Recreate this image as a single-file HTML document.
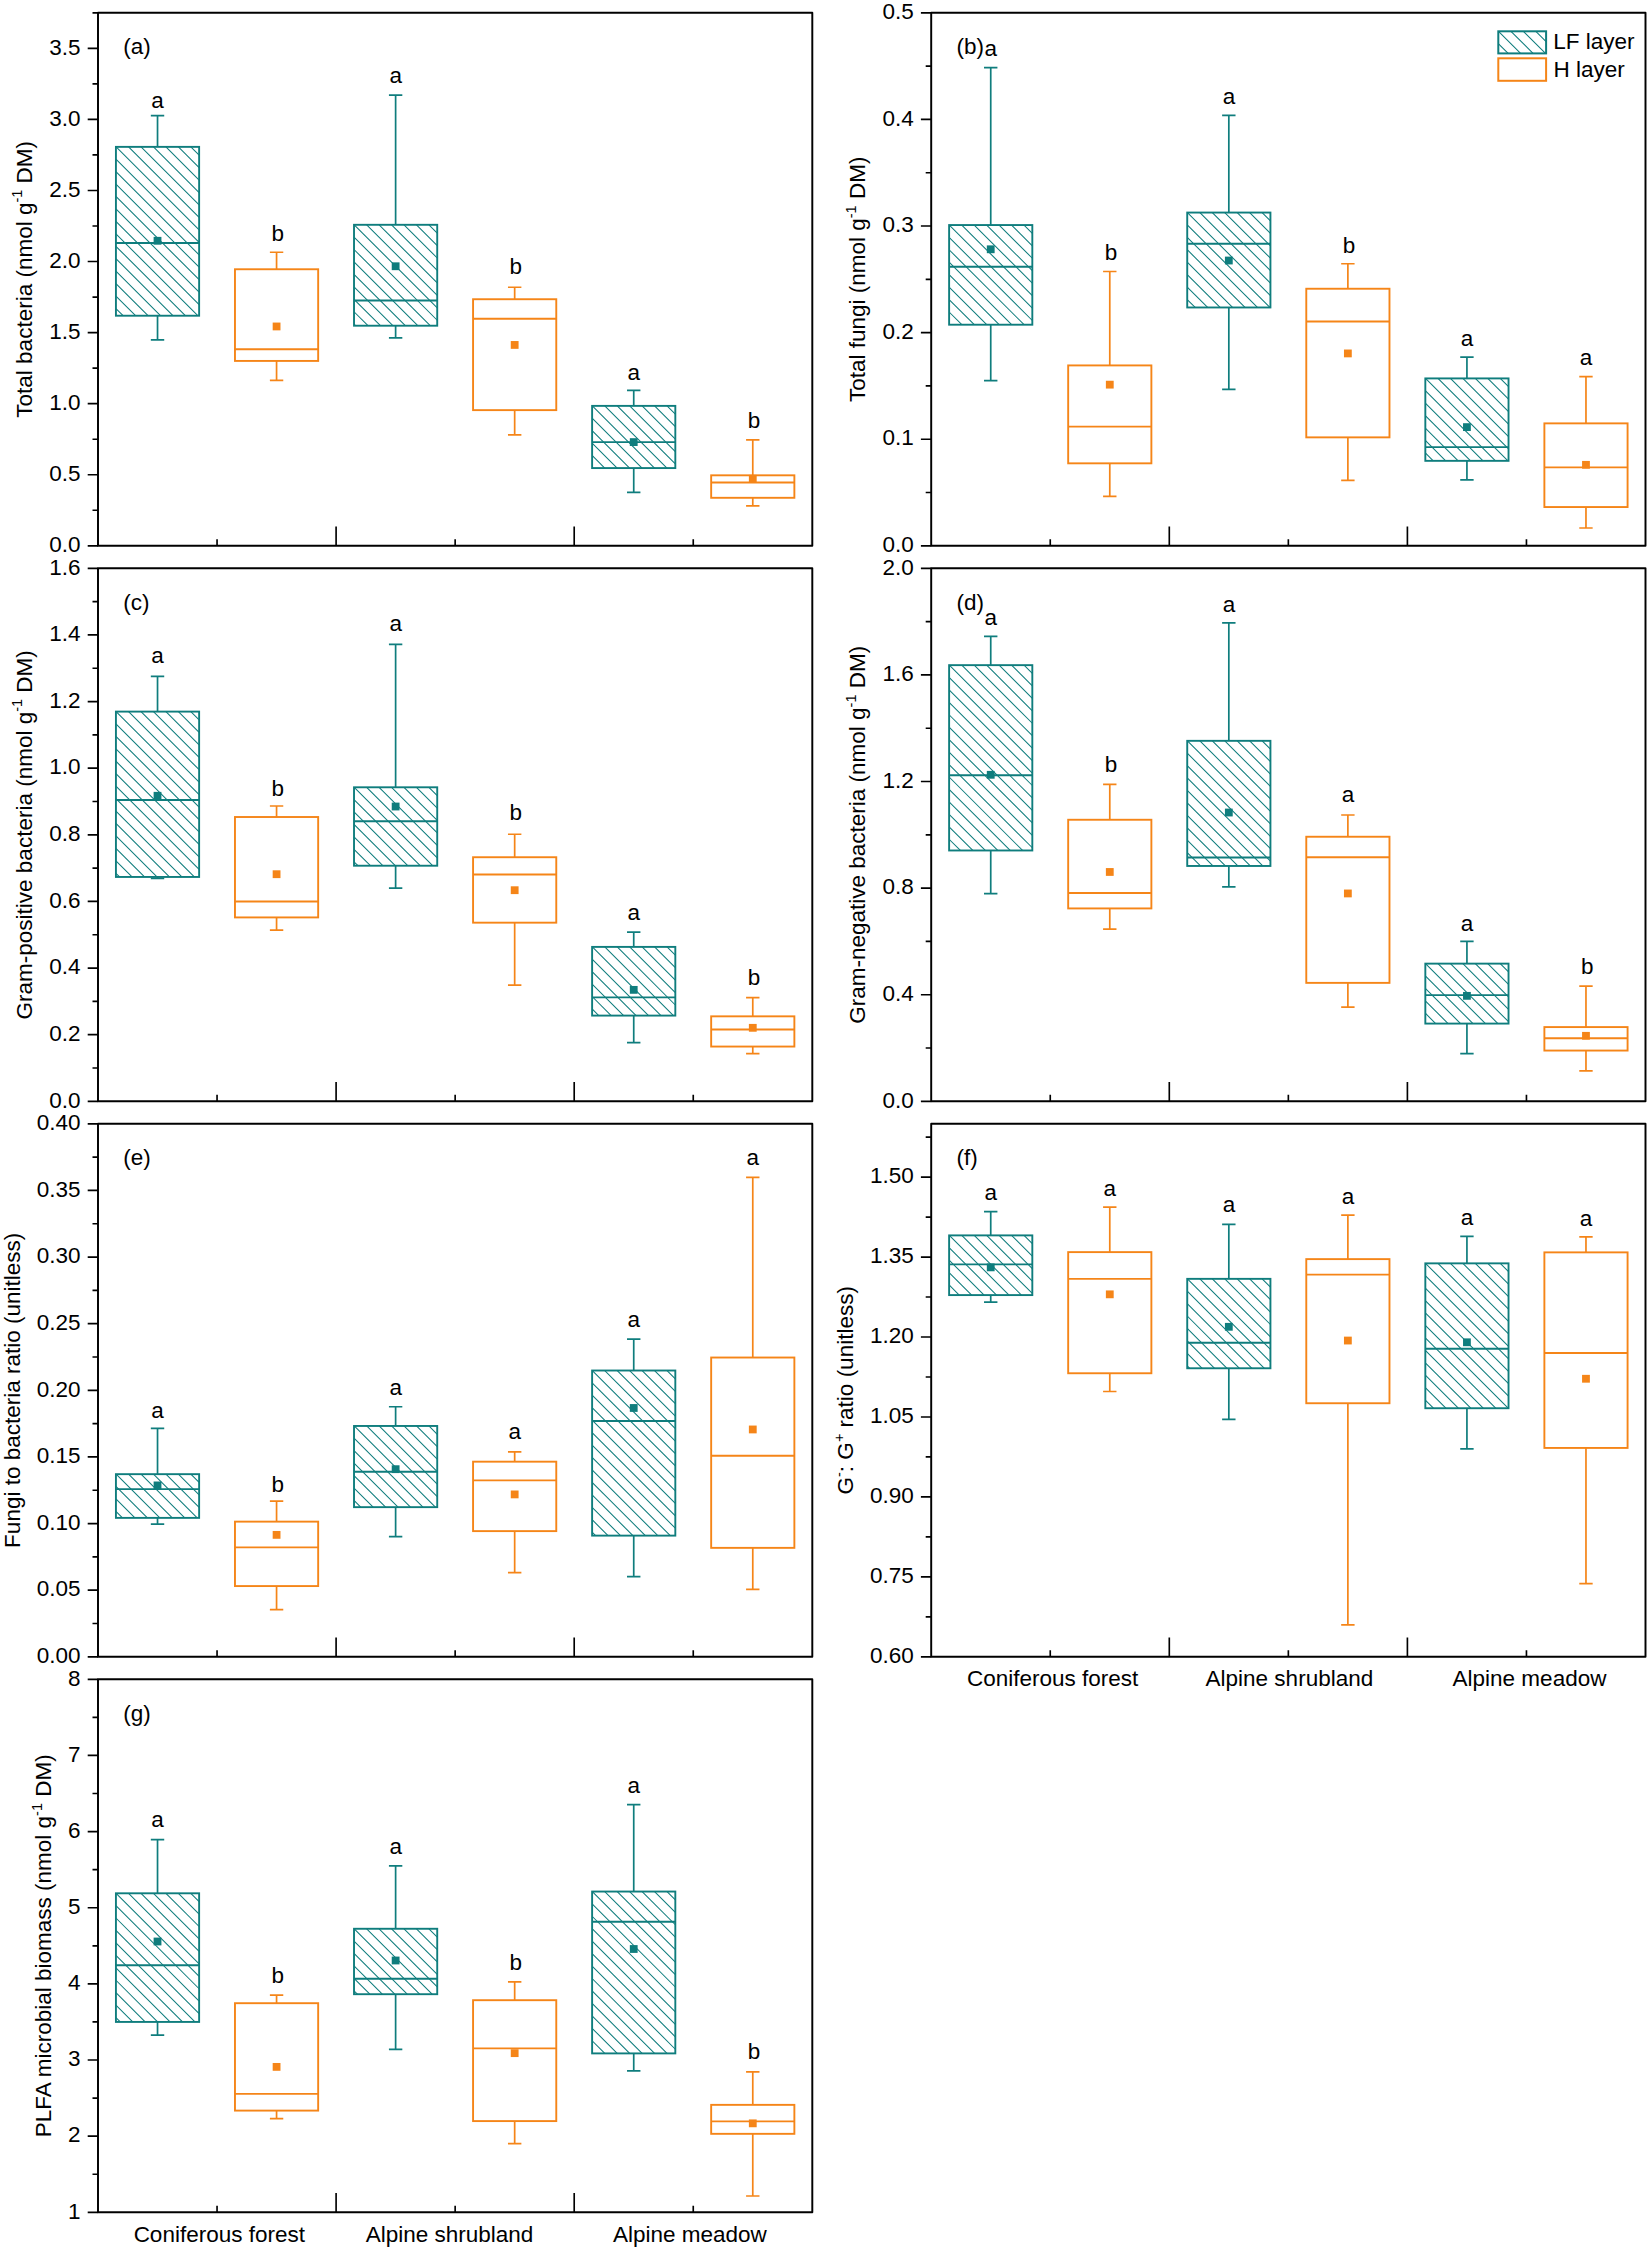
<!DOCTYPE html>
<html lang="en">
<head>
<meta charset="utf-8">
<title>PLFA microbial biomass box plots</title>
<style>
html,body{margin:0;padding:0;background:#fff;}
body{width:1650px;height:2250px;overflow:hidden;}
svg{display:block;}
svg text{font-family:"Liberation Sans",sans-serif;font-size:22.5px;fill:#000;}
</style>
</head>
<body>
<svg width="1650" height="2250" viewBox="0 0 1650 2250">
<rect width="1650" height="2250" fill="#fff"/>
<g id="panel-a">
<path d="M115.93 308.52 L123.12 315.72 M115.93 296.07 L135.57 315.72 M115.93 283.62 L148.02 315.72 M115.93 271.17 L160.47 315.72 M115.93 258.72 L172.92 315.72 M115.93 246.27 L185.37 315.72 M115.93 233.82 L197.82 315.72 M115.93 221.37 L199.12 304.57 M115.93 208.92 L199.12 292.12 M115.93 196.47 L199.12 279.67 M115.93 184.02 L199.12 267.22 M115.93 171.57 L199.12 254.77 M115.93 159.12 L199.12 242.32 M116.13 146.87 L199.12 229.87 M128.58 146.87 L199.12 217.42 M141.03 146.87 L199.12 204.97 M153.48 146.87 L199.12 192.52 M165.93 146.87 L199.12 180.07 M178.38 146.87 L199.12 167.62 M190.82 146.87 L199.12 155.17" stroke="#0f7d7d" stroke-width="1.05" fill="none"/>
<g stroke="#0f7d7d" fill="none">
<path d="M157.53 115.65 V146.87 M157.53 315.72 V339.94 M150.83 115.65 H164.22 M150.83 339.94 H164.22" stroke-width="1.7"/>
<rect x="115.93" y="146.87" width="83.2" height="168.85" fill="none" stroke-width="1.9"/>
<path d="M115.93 243.03 H199.12" stroke-width="1.9"/>
<rect x="153.62" y="236.88" width="7.8" height="7.8" fill="#0f7d7d" stroke="none"/>
</g>
<text x="157.62" y="107.8" text-anchor="middle">a</text>
<g stroke="#f58518" fill="none">
<path d="M276.57 252.27 V269.26 M276.57 360.92 V380.41 M269.88 252.27 H283.27 M269.88 380.41 H283.27" stroke-width="1.7"/>
<rect x="234.97" y="269.26" width="83.2" height="91.67" fill="none" stroke-width="1.9"/>
<path d="M234.97 349.19 H318.18" stroke-width="1.9"/>
<rect x="272.68" y="322.56" width="7.8" height="7.8" fill="#f58518" stroke="none"/>
</g>
<text x="277.77" y="241.43" text-anchor="middle">b</text>
<path d="M354.02 324.2 L355.53 325.71 M354.02 311.75 L367.98 325.71 M354.02 299.3 L380.43 325.71 M354.02 286.85 L392.88 325.71 M354.02 274.4 L405.33 325.71 M354.02 261.95 L417.78 325.71 M354.02 249.5 L430.23 325.71 M354.02 237.05 L437.22 320.25 M354.22 224.8 L437.22 307.8 M366.67 224.8 L437.22 295.35 M379.12 224.8 L437.22 282.9 M391.57 224.8 L437.22 270.45 M404.02 224.8 L437.22 258 M416.47 224.8 L437.22 245.55 M428.92 224.8 L437.22 233.1" stroke="#0f7d7d" stroke-width="1.05" fill="none"/>
<g stroke="#0f7d7d" fill="none">
<path d="M395.62 95.16 V224.8 M395.62 325.71 V337.95 M388.93 95.16 H402.32 M388.93 337.95 H402.32" stroke-width="1.7"/>
<rect x="354.02" y="224.8" width="83.2" height="100.91" fill="none" stroke-width="1.9"/>
<path d="M354.02 300.48 H437.22" stroke-width="1.9"/>
<rect x="391.73" y="262.36" width="7.8" height="7.8" fill="#0f7d7d" stroke="none"/>
</g>
<text x="395.73" y="82.83" text-anchor="middle">a</text>
<g stroke="#f58518" fill="none">
<path d="M514.67 287.24 V299.23 M514.67 410.13 V434.86 M507.97 287.24 H521.38 M507.97 434.86 H521.38" stroke-width="1.7"/>
<rect x="473.07" y="299.23" width="83.2" height="110.9" fill="none" stroke-width="1.9"/>
<path d="M473.07 318.71 H556.27" stroke-width="1.9"/>
<rect x="510.77" y="341.04" width="7.8" height="7.8" fill="#f58518" stroke="none"/>
</g>
<text x="515.88" y="273.9" text-anchor="middle">b</text>
<path d="M592.12 467.93 L592.27 468.08 M592.12 455.48 L604.72 468.08 M592.12 443.03 L617.17 468.08 M592.12 430.58 L629.62 468.08 M592.12 418.13 L642.07 468.08 M592.33 405.88 L654.52 468.08 M604.78 405.88 L666.97 468.08 M617.23 405.88 L675.33 463.98 M629.68 405.88 L675.33 451.53 M642.12 405.88 L675.33 439.08 M654.58 405.88 L675.33 426.63 M667.03 405.88 L675.33 414.18" stroke="#0f7d7d" stroke-width="1.05" fill="none"/>
<g stroke="#0f7d7d" fill="none">
<path d="M633.73 390.4 V405.88 M633.73 468.08 V492.31 M627.02 390.4 H640.43 M627.02 492.31 H640.43" stroke-width="1.7"/>
<rect x="592.12" y="405.88" width="83.2" height="62.19" fill="none" stroke-width="1.9"/>
<path d="M592.12 442.1 H675.33" stroke-width="1.9"/>
<rect x="629.83" y="438.2" width="7.8" height="7.8" fill="#0f7d7d" stroke="none"/>
</g>
<text x="633.83" y="380.06" text-anchor="middle">a</text>
<g stroke="#f58518" fill="none">
<path d="M752.77 439.85 V475.32 M752.77 497.8 V505.79 M746.07 439.85 H759.48 M746.07 505.79 H759.48" stroke-width="1.7"/>
<rect x="711.17" y="475.32" width="83.2" height="22.48" fill="none" stroke-width="1.9"/>
<path d="M711.17 482.57 H794.38" stroke-width="1.9"/>
<rect x="748.88" y="474.92" width="7.8" height="7.8" fill="#f58518" stroke="none"/>
</g>
<text x="753.98" y="428.01" text-anchor="middle">b</text>
<rect x="98" y="12.8" width="714.3" height="533" fill="none" stroke="#000" stroke-width="1.95" stroke-linejoin="round"/>
<text x="80.5" y="552" text-anchor="end" font-size="22.2">0.0</text>
<text x="80.5" y="480.93" text-anchor="end" font-size="22.2">0.5</text>
<text x="80.5" y="409.87" text-anchor="end" font-size="22.2">1.0</text>
<text x="80.5" y="338.8" text-anchor="end" font-size="22.2">1.5</text>
<text x="80.5" y="267.73" text-anchor="end" font-size="22.2">2.0</text>
<text x="80.5" y="196.67" text-anchor="end" font-size="22.2">2.5</text>
<text x="80.5" y="125.6" text-anchor="end" font-size="22.2">3.0</text>
<text x="80.5" y="54.53" text-anchor="end" font-size="22.2">3.5</text>
<path d="M98 545.8 H87.7 M98 510.27 H92.5 M98 474.73 H87.7 M98 439.2 H92.5 M98 403.67 H87.7 M98 368.13 H92.5 M98 332.6 H87.7 M98 297.07 H92.5 M98 261.53 H87.7 M98 226 H92.5 M98 190.47 H87.7 M98 154.93 H92.5 M98 119.4 H87.7 M98 83.87 H92.5 M98 48.33 H87.7 M98 12.8 H92.5 M217.05 545.8 V539.2 M455.15 545.8 V539.2 M693.25 545.8 V539.2 M336.1 545.8 V526.4 M574.2 545.8 V526.4" stroke="#000" stroke-width="1.65" fill="none"/>
<text x="123.2" y="54">(a)</text>
<text transform="translate(31.9 279.3) rotate(-90)" text-anchor="middle" font-size="22.25" xml:space="preserve">Total bacteria (nmol g<tspan font-size="14.5" dy="-9.5">-1</tspan><tspan dy="9.5"> DM)</tspan></text>
</g>
<g id="panel-b">
<path d="M949.12 324.45 L949.39 324.71 M949.12 312 L961.84 324.71 M949.12 299.55 L974.29 324.71 M949.12 287.1 L986.74 324.71 M949.12 274.65 L999.19 324.71 M949.12 262.2 L1011.64 324.71 M949.12 249.75 L1024.09 324.71 M949.12 237.3 L1032.33 320.5 M949.33 225.05 L1032.33 308.05 M961.78 225.05 L1032.33 295.6 M974.23 225.05 L1032.33 283.15 M986.68 225.05 L1032.33 270.7 M999.12 225.05 L1032.33 258.25 M1011.58 225.05 L1032.33 245.8 M1024.02 225.05 L1032.33 233.35" stroke="#0f7d7d" stroke-width="1.05" fill="none"/>
<g stroke="#0f7d7d" fill="none">
<path d="M990.73 67.69 V225.05 M990.73 324.71 V380.66 M984.02 67.69 H997.43 M984.02 380.66 H997.43" stroke-width="1.7"/>
<rect x="949.12" y="225.05" width="83.2" height="99.66" fill="none" stroke-width="1.9"/>
<path d="M949.12 266.76 H1032.33" stroke-width="1.9"/>
<rect x="986.83" y="245.38" width="7.8" height="7.8" fill="#0f7d7d" stroke="none"/>
</g>
<text x="990.83" y="55.85" text-anchor="middle">a</text>
<g stroke="#f58518" fill="none">
<path d="M1109.78 271.51 V365.42 M1109.78 463.33 V496.3 M1103.08 271.51 H1116.48 M1103.08 496.3 H1116.48" stroke-width="1.7"/>
<rect x="1068.18" y="365.42" width="83.2" height="97.91" fill="none" stroke-width="1.9"/>
<path d="M1068.18 426.62 H1151.38" stroke-width="1.9"/>
<rect x="1105.88" y="380.75" width="7.8" height="7.8" fill="#f58518" stroke="none"/>
</g>
<text x="1110.98" y="260.17" text-anchor="middle">b</text>
<path d="M1187.23 299.51 L1195.19 307.47 M1187.23 287.06 L1207.64 307.47 M1187.23 274.61 L1220.09 307.47 M1187.23 262.16 L1232.54 307.47 M1187.23 249.71 L1244.99 307.47 M1187.23 237.26 L1257.44 307.47 M1187.23 224.81 L1269.89 307.47 M1187.43 212.56 L1270.43 295.56 M1199.88 212.56 L1270.43 283.11 M1212.33 212.56 L1270.43 270.66 M1224.78 212.56 L1270.43 258.21 M1237.23 212.56 L1270.43 245.76 M1249.68 212.56 L1270.43 233.31 M1262.12 212.56 L1270.43 220.86" stroke="#0f7d7d" stroke-width="1.05" fill="none"/>
<g stroke="#0f7d7d" fill="none">
<path d="M1228.83 115.4 V212.56 M1228.83 307.47 V389.4 M1222.12 115.4 H1235.53 M1222.12 389.4 H1235.53" stroke-width="1.7"/>
<rect x="1187.23" y="212.56" width="83.2" height="94.91" fill="none" stroke-width="1.9"/>
<path d="M1187.23 243.78 H1270.43" stroke-width="1.9"/>
<rect x="1224.92" y="256.62" width="7.8" height="7.8" fill="#0f7d7d" stroke="none"/>
</g>
<text x="1228.92" y="104.06" text-anchor="middle">a</text>
<g stroke="#f58518" fill="none">
<path d="M1347.88 263.76 V288.74 M1347.88 437.36 V480.32 M1341.17 263.76 H1354.58 M1341.17 480.32 H1354.58" stroke-width="1.7"/>
<rect x="1306.28" y="288.74" width="83.2" height="148.62" fill="none" stroke-width="1.9"/>
<path d="M1306.28 321.46 H1389.48" stroke-width="1.9"/>
<rect x="1343.97" y="349.53" width="7.8" height="7.8" fill="#f58518" stroke="none"/>
</g>
<text x="1349.08" y="252.67" text-anchor="middle">b</text>
<path d="M1425.33 452.91 L1433.25 460.83 M1425.33 440.46 L1445.7 460.83 M1425.33 428.01 L1458.15 460.83 M1425.33 415.56 L1470.6 460.83 M1425.33 403.11 L1483.05 460.83 M1425.33 390.66 L1495.5 460.83 M1425.53 378.41 L1507.95 460.83 M1437.98 378.41 L1508.53 448.96 M1450.43 378.41 L1508.53 436.51 M1462.88 378.41 L1508.53 424.06 M1475.33 378.41 L1508.53 411.61 M1487.78 378.41 L1508.53 399.16 M1500.23 378.41 L1508.53 386.71" stroke="#0f7d7d" stroke-width="1.05" fill="none"/>
<g stroke="#0f7d7d" fill="none">
<path d="M1466.93 357.18 V378.41 M1466.93 460.83 V479.82 M1460.23 357.18 H1473.63 M1460.23 479.82 H1473.63" stroke-width="1.7"/>
<rect x="1425.33" y="378.41" width="83.2" height="82.43" fill="none" stroke-width="1.9"/>
<path d="M1425.33 447.1 H1508.53" stroke-width="1.9"/>
<rect x="1463.03" y="423.22" width="7.8" height="7.8" fill="#0f7d7d" stroke="none"/>
</g>
<text x="1467.03" y="345.84" text-anchor="middle">a</text>
<g stroke="#f58518" fill="none">
<path d="M1585.97 376.66 V423.37 M1585.97 507.04 V528.02 M1579.27 376.66 H1592.67 M1579.27 528.02 H1592.67" stroke-width="1.7"/>
<rect x="1544.38" y="423.37" width="83.2" height="83.67" fill="none" stroke-width="1.9"/>
<path d="M1544.38 467.33 H1627.58" stroke-width="1.9"/>
<rect x="1582.07" y="460.93" width="7.8" height="7.8" fill="#f58518" stroke="none"/>
</g>
<text x="1586.07" y="365.07" text-anchor="middle">a</text>
<rect x="931.2" y="12.8" width="714.3" height="533" fill="none" stroke="#000" stroke-width="1.95" stroke-linejoin="round"/>
<text x="913.7" y="552" text-anchor="end" font-size="22.2">0.0</text>
<text x="913.7" y="445.4" text-anchor="end" font-size="22.2">0.1</text>
<text x="913.7" y="338.8" text-anchor="end" font-size="22.2">0.2</text>
<text x="913.7" y="232.2" text-anchor="end" font-size="22.2">0.3</text>
<text x="913.7" y="125.6" text-anchor="end" font-size="22.2">0.4</text>
<text x="913.7" y="19" text-anchor="end" font-size="22.2">0.5</text>
<path d="M931.2 545.8 H920.9 M931.2 492.5 H925.7 M931.2 439.2 H920.9 M931.2 385.9 H925.7 M931.2 332.6 H920.9 M931.2 279.3 H925.7 M931.2 226 H920.9 M931.2 172.7 H925.7 M931.2 119.4 H920.9 M931.2 66.1 H925.7 M931.2 12.8 H920.9 M1050.25 545.8 V539.2 M1288.35 545.8 V539.2 M1526.45 545.8 V539.2 M1169.3 545.8 V526.4 M1407.4 545.8 V526.4" stroke="#000" stroke-width="1.65" fill="none"/>
<text x="956.4" y="54">(b)</text>
<text transform="translate(865.1 279.3) rotate(-90)" text-anchor="middle" font-size="22.25" xml:space="preserve">Total fungi (nmol g<tspan font-size="14.5" dy="-9.5">-1</tspan><tspan dy="9.5"> DM)</tspan></text>
</g>
<g id="panel-c">
<path d="M115.93 873.26 L119.63 876.96 M115.93 860.81 L132.08 876.96 M115.93 848.36 L144.53 876.96 M115.93 835.91 L156.98 876.96 M115.93 823.46 L169.43 876.96 M115.93 811.01 L181.88 876.96 M115.93 798.56 L194.33 876.96 M115.93 786.11 L199.12 869.31 M115.93 773.66 L199.12 856.86 M115.93 761.21 L199.12 844.41 M115.93 748.76 L199.12 831.96 M115.93 736.31 L199.12 819.51 M115.93 723.86 L199.12 807.06 M116.12 711.61 L199.12 794.61 M128.58 711.61 L199.12 782.16 M141.02 711.61 L199.12 769.71 M153.48 711.61 L199.12 757.26 M165.92 711.61 L199.12 744.81 M178.38 711.61 L199.12 732.36 M190.83 711.61 L199.12 719.91" stroke="#0f7d7d" stroke-width="1.05" fill="none"/>
<g stroke="#0f7d7d" fill="none">
<path d="M157.53 676.39 V711.61 M157.53 876.96 V878.46 M150.83 676.39 H164.22 M150.83 878.46 H164.22" stroke-width="1.7"/>
<rect x="115.93" y="711.61" width="83.2" height="165.35" fill="none" stroke-width="1.9"/>
<path d="M115.93 800.03 H199.12" stroke-width="1.9"/>
<rect x="153.62" y="791.88" width="7.8" height="7.8" fill="#0f7d7d" stroke="none"/>
</g>
<text x="157.62" y="663.3" text-anchor="middle">a</text>
<g stroke="#f58518" fill="none">
<path d="M276.57 806.02 V817.01 M276.57 917.42 V930.16 M269.88 806.02 H283.27 M269.88 930.16 H283.27" stroke-width="1.7"/>
<rect x="234.97" y="817.01" width="83.2" height="100.41" fill="none" stroke-width="1.9"/>
<path d="M234.97 901.44 H318.18" stroke-width="1.9"/>
<rect x="272.68" y="870.31" width="7.8" height="7.8" fill="#f58518" stroke="none"/>
</g>
<text x="277.77" y="796.18" text-anchor="middle">b</text>
<path d="M354.02 861.79 L357.95 865.72 M354.02 849.34 L370.4 865.72 M354.02 836.89 L382.85 865.72 M354.02 824.44 L395.3 865.72 M354.02 811.99 L407.75 865.72 M354.02 799.54 L420.2 865.72 M354.22 787.29 L432.65 865.72 M366.67 787.29 L437.22 857.84 M379.12 787.29 L437.22 845.39 M391.57 787.29 L437.22 832.94 M404.02 787.29 L437.22 820.49 M416.47 787.29 L437.22 808.04 M428.92 787.29 L437.22 795.59" stroke="#0f7d7d" stroke-width="1.05" fill="none"/>
<g stroke="#0f7d7d" fill="none">
<path d="M395.62 644.42 V787.29 M395.62 865.72 V888.2 M388.93 644.42 H402.32 M388.93 888.2 H402.32" stroke-width="1.7"/>
<rect x="354.02" y="787.29" width="83.2" height="78.43" fill="none" stroke-width="1.9"/>
<path d="M354.02 821.26 H437.22" stroke-width="1.9"/>
<rect x="391.73" y="802.62" width="7.8" height="7.8" fill="#0f7d7d" stroke="none"/>
</g>
<text x="395.73" y="630.83" text-anchor="middle">a</text>
<g stroke="#f58518" fill="none">
<path d="M514.67 834.25 V857.23 M514.67 922.67 V985.11 M507.97 834.25 H521.38 M507.97 985.11 H521.38" stroke-width="1.7"/>
<rect x="473.07" y="857.23" width="83.2" height="65.44" fill="none" stroke-width="1.9"/>
<path d="M473.07 874.46 H556.27" stroke-width="1.9"/>
<rect x="510.77" y="886.3" width="7.8" height="7.8" fill="#f58518" stroke="none"/>
</g>
<text x="515.88" y="820.41" text-anchor="middle">b</text>
<path d="M592.12 1008.95 L598.76 1015.59 M592.12 996.5 L611.21 1015.59 M592.12 984.05 L623.66 1015.59 M592.12 971.6 L636.11 1015.59 M592.12 959.15 L648.56 1015.59 M592.33 946.9 L661.01 1015.59 M604.78 946.9 L673.46 1015.59 M617.23 946.9 L675.33 1005 M629.68 946.9 L675.33 992.55 M642.12 946.9 L675.33 980.1 M654.58 946.9 L675.33 967.65 M667.03 946.9 L675.33 955.2" stroke="#0f7d7d" stroke-width="1.05" fill="none"/>
<g stroke="#0f7d7d" fill="none">
<path d="M633.73 932.16 V946.9 M633.73 1015.59 V1042.56 M627.02 932.16 H640.43 M627.02 1042.56 H640.43" stroke-width="1.7"/>
<rect x="592.12" y="946.9" width="83.2" height="68.69" fill="none" stroke-width="1.9"/>
<path d="M592.12 997.35 H675.33" stroke-width="1.9"/>
<rect x="629.83" y="985.96" width="7.8" height="7.8" fill="#0f7d7d" stroke="none"/>
</g>
<text x="633.83" y="919.82" text-anchor="middle">a</text>
<g stroke="#f58518" fill="none">
<path d="M752.77 997.6 V1016.34 M752.77 1046.56 V1053.55 M746.07 997.6 H759.48 M746.07 1053.55 H759.48" stroke-width="1.7"/>
<rect x="711.17" y="1016.34" width="83.2" height="30.22" fill="none" stroke-width="1.9"/>
<path d="M711.17 1029.57 H794.38" stroke-width="1.9"/>
<rect x="748.88" y="1023.92" width="7.8" height="7.8" fill="#f58518" stroke="none"/>
</g>
<text x="753.98" y="984.76" text-anchor="middle">b</text>
<rect x="98" y="568.3" width="714.3" height="533" fill="none" stroke="#000" stroke-width="1.95" stroke-linejoin="round"/>
<text x="80.5" y="1107.5" text-anchor="end" font-size="22.2">0.0</text>
<text x="80.5" y="1040.88" text-anchor="end" font-size="22.2">0.2</text>
<text x="80.5" y="974.25" text-anchor="end" font-size="22.2">0.4</text>
<text x="80.5" y="907.62" text-anchor="end" font-size="22.2">0.6</text>
<text x="80.5" y="841" text-anchor="end" font-size="22.2">0.8</text>
<text x="80.5" y="774.38" text-anchor="end" font-size="22.2">1.0</text>
<text x="80.5" y="707.75" text-anchor="end" font-size="22.2">1.2</text>
<text x="80.5" y="641.12" text-anchor="end" font-size="22.2">1.4</text>
<text x="80.5" y="574.5" text-anchor="end" font-size="22.2">1.6</text>
<path d="M98 1101.3 H87.7 M98 1067.99 H92.5 M98 1034.67 H87.7 M98 1001.36 H92.5 M98 968.05 H87.7 M98 934.74 H92.5 M98 901.42 H87.7 M98 868.11 H92.5 M98 834.8 H87.7 M98 801.49 H92.5 M98 768.17 H87.7 M98 734.86 H92.5 M98 701.55 H87.7 M98 668.24 H92.5 M98 634.92 H87.7 M98 601.61 H92.5 M98 568.3 H87.7 M217.05 1101.3 V1094.7 M455.15 1101.3 V1094.7 M693.25 1101.3 V1094.7 M336.1 1101.3 V1081.9 M574.2 1101.3 V1081.9" stroke="#000" stroke-width="1.65" fill="none"/>
<text x="123.2" y="609.5">(c)</text>
<text transform="translate(31.9 834.8) rotate(-90)" text-anchor="middle" font-size="22.25" xml:space="preserve">Gram-positive bacteria (nmol g<tspan font-size="14.5" dy="-9.5">-1</tspan><tspan dy="9.5"> DM)</tspan></text>
</g>
<g id="panel-d">
<path d="M949.12 839.25 L960.36 850.48 M949.12 826.8 L972.81 850.48 M949.12 814.35 L985.26 850.48 M949.12 801.9 L997.71 850.48 M949.12 789.45 L1010.16 850.48 M949.12 777 L1022.61 850.48 M949.12 764.55 L1032.33 847.75 M949.12 752.1 L1032.33 835.3 M949.12 739.65 L1032.33 822.85 M949.12 727.2 L1032.33 810.4 M949.12 714.75 L1032.33 797.95 M949.12 702.3 L1032.33 785.5 M949.12 689.85 L1032.33 773.05 M949.12 677.4 L1032.33 760.6 M949.33 665.15 L1032.33 748.15 M961.78 665.15 L1032.33 735.7 M974.23 665.15 L1032.33 723.25 M986.68 665.15 L1032.33 710.8 M999.12 665.15 L1032.33 698.35 M1011.58 665.15 L1032.33 685.9 M1024.03 665.15 L1032.33 673.45" stroke="#0f7d7d" stroke-width="1.05" fill="none"/>
<g stroke="#0f7d7d" fill="none">
<path d="M990.73 636.43 V665.15 M990.73 850.48 V893.7 M984.02 636.43 H997.43 M984.02 893.7 H997.43" stroke-width="1.7"/>
<rect x="949.12" y="665.15" width="83.2" height="185.33" fill="none" stroke-width="1.9"/>
<path d="M949.12 775.3 H1032.33" stroke-width="1.9"/>
<rect x="986.83" y="770.9" width="7.8" height="7.8" fill="#0f7d7d" stroke="none"/>
</g>
<text x="990.83" y="624.59" text-anchor="middle">a</text>
<g stroke="#f58518" fill="none">
<path d="M1109.78 784.29 V819.76 M1109.78 908.43 V929.16 M1103.08 784.29 H1116.48 M1103.08 929.16 H1116.48" stroke-width="1.7"/>
<rect x="1068.18" y="819.76" width="83.2" height="88.67" fill="none" stroke-width="1.9"/>
<path d="M1068.18 892.95 H1151.38" stroke-width="1.9"/>
<rect x="1105.88" y="868.07" width="7.8" height="7.8" fill="#f58518" stroke="none"/>
</g>
<text x="1110.98" y="772.46" text-anchor="middle">b</text>
<path d="M1187.23 865.13 L1188.06 865.97 M1187.23 852.68 L1200.51 865.97 M1187.23 840.23 L1212.96 865.97 M1187.23 827.78 L1225.41 865.97 M1187.23 815.33 L1237.86 865.97 M1187.23 802.88 L1250.31 865.97 M1187.23 790.43 L1262.76 865.97 M1187.23 777.98 L1270.43 861.18 M1187.23 765.53 L1270.43 848.73 M1187.23 753.08 L1270.43 836.28 M1187.43 740.83 L1270.43 823.83 M1199.88 740.83 L1270.43 811.38 M1212.33 740.83 L1270.43 798.93 M1224.78 740.83 L1270.43 786.48 M1237.23 740.83 L1270.43 774.03 M1249.68 740.83 L1270.43 761.58 M1262.13 740.83 L1270.43 749.13" stroke="#0f7d7d" stroke-width="1.05" fill="none"/>
<g stroke="#0f7d7d" fill="none">
<path d="M1228.83 622.94 V740.83 M1228.83 865.97 V886.95 M1222.12 622.94 H1235.53 M1222.12 886.95 H1235.53" stroke-width="1.7"/>
<rect x="1187.23" y="740.83" width="83.2" height="125.14" fill="none" stroke-width="1.9"/>
<path d="M1187.23 857.48 H1270.43" stroke-width="1.9"/>
<rect x="1224.92" y="808.62" width="7.8" height="7.8" fill="#0f7d7d" stroke="none"/>
</g>
<text x="1228.92" y="611.85" text-anchor="middle">a</text>
<g stroke="#f58518" fill="none">
<path d="M1347.88 815.02 V836.75 M1347.88 982.87 V1007.09 M1341.17 815.02 H1354.58 M1341.17 1007.09 H1354.58" stroke-width="1.7"/>
<rect x="1306.28" y="836.75" width="83.2" height="146.12" fill="none" stroke-width="1.9"/>
<path d="M1306.28 857.23 H1389.48" stroke-width="1.9"/>
<rect x="1343.97" y="889.55" width="7.8" height="7.8" fill="#f58518" stroke="none"/>
</g>
<text x="1347.97" y="802.43" text-anchor="middle">a</text>
<path d="M1425.33 1013.23 L1435.67 1023.58 M1425.33 1000.78 L1448.12 1023.58 M1425.33 988.33 L1460.57 1023.58 M1425.33 975.88 L1473.02 1023.58 M1425.53 963.63 L1485.47 1023.58 M1437.98 963.63 L1497.92 1023.58 M1450.43 963.63 L1508.53 1021.73 M1462.88 963.63 L1508.53 1009.28 M1475.33 963.63 L1508.53 996.83 M1487.78 963.63 L1508.53 984.38 M1500.23 963.63 L1508.53 971.93" stroke="#0f7d7d" stroke-width="1.05" fill="none"/>
<g stroke="#0f7d7d" fill="none">
<path d="M1466.93 941.4 V963.63 M1466.93 1023.58 V1053.55 M1460.23 941.4 H1473.63 M1460.23 1053.55 H1473.63" stroke-width="1.7"/>
<rect x="1425.33" y="963.63" width="83.2" height="59.95" fill="none" stroke-width="1.9"/>
<path d="M1425.33 995.1 H1508.53" stroke-width="1.9"/>
<rect x="1463.03" y="991.95" width="7.8" height="7.8" fill="#0f7d7d" stroke="none"/>
</g>
<text x="1467.03" y="930.56" text-anchor="middle">a</text>
<g stroke="#f58518" fill="none">
<path d="M1585.97 986.11 V1027.08 M1585.97 1050.55 V1070.79 M1579.27 986.11 H1592.67 M1579.27 1070.79 H1592.67" stroke-width="1.7"/>
<rect x="1544.38" y="1027.08" width="83.2" height="23.48" fill="none" stroke-width="1.9"/>
<path d="M1544.38 1038.32 H1627.58" stroke-width="1.9"/>
<rect x="1582.07" y="1031.92" width="7.8" height="7.8" fill="#f58518" stroke="none"/>
</g>
<text x="1587.17" y="974.02" text-anchor="middle">b</text>
<rect x="931.2" y="568.3" width="714.3" height="533" fill="none" stroke="#000" stroke-width="1.95" stroke-linejoin="round"/>
<text x="913.7" y="1107.5" text-anchor="end" font-size="22.2">0.0</text>
<text x="913.7" y="1000.9" text-anchor="end" font-size="22.2">0.4</text>
<text x="913.7" y="894.3" text-anchor="end" font-size="22.2">0.8</text>
<text x="913.7" y="787.7" text-anchor="end" font-size="22.2">1.2</text>
<text x="913.7" y="681.1" text-anchor="end" font-size="22.2">1.6</text>
<text x="913.7" y="574.5" text-anchor="end" font-size="22.2">2.0</text>
<path d="M931.2 1101.3 H920.9 M931.2 1048 H925.7 M931.2 994.7 H920.9 M931.2 941.4 H925.7 M931.2 888.1 H920.9 M931.2 834.8 H925.7 M931.2 781.5 H920.9 M931.2 728.2 H925.7 M931.2 674.9 H920.9 M931.2 621.6 H925.7 M931.2 568.3 H920.9 M1050.25 1101.3 V1094.7 M1288.35 1101.3 V1094.7 M1526.45 1101.3 V1094.7 M1169.3 1101.3 V1081.9 M1407.4 1101.3 V1081.9" stroke="#000" stroke-width="1.65" fill="none"/>
<text x="956.4" y="609.5">(d)</text>
<text transform="translate(865.1 834.8) rotate(-90)" text-anchor="middle" font-size="22.25" xml:space="preserve">Gram-negative bacteria (nmol g<tspan font-size="14.5" dy="-9.5">-1</tspan><tspan dy="9.5"> DM)</tspan></text>
</g>
<g id="panel-e">
<path d="M115.93 1511.32 L122.49 1517.88 M115.93 1498.87 L134.94 1517.88 M115.93 1486.42 L147.39 1517.88 M116.12 1474.17 L159.84 1517.88 M128.58 1474.17 L172.29 1517.88 M141.03 1474.17 L184.74 1517.88 M153.47 1474.17 L197.19 1517.88 M165.92 1474.17 L199.12 1507.37 M178.38 1474.17 L199.12 1494.92 M190.83 1474.17 L199.12 1482.47" stroke="#0f7d7d" stroke-width="1.05" fill="none"/>
<g stroke="#0f7d7d" fill="none">
<path d="M157.53 1428.46 V1474.17 M157.53 1517.88 V1524.13 M150.83 1428.46 H164.22 M150.83 1524.13 H164.22" stroke-width="1.7"/>
<rect x="115.93" y="1474.17" width="83.2" height="43.71" fill="none" stroke-width="1.9"/>
<path d="M115.93 1489.16 H199.12" stroke-width="1.9"/>
<rect x="153.62" y="1481.51" width="7.8" height="7.8" fill="#0f7d7d" stroke="none"/>
</g>
<text x="157.62" y="1417.63" text-anchor="middle">a</text>
<g stroke="#f58518" fill="none">
<path d="M276.57 1501.15 V1521.63 M276.57 1586.07 V1609.55 M269.88 1501.15 H283.27 M269.88 1609.55 H283.27" stroke-width="1.7"/>
<rect x="234.97" y="1521.63" width="83.2" height="64.44" fill="none" stroke-width="1.9"/>
<path d="M234.97 1547.36 H318.18" stroke-width="1.9"/>
<rect x="272.68" y="1530.97" width="7.8" height="7.8" fill="#f58518" stroke="none"/>
</g>
<text x="277.77" y="1492.26" text-anchor="middle">b</text>
<path d="M354.02 1500.47 L360.7 1507.14 M354.02 1488.02 L373.15 1507.14 M354.02 1475.57 L385.6 1507.14 M354.02 1463.12 L398.05 1507.14 M354.02 1450.67 L410.5 1507.14 M354.02 1438.22 L422.95 1507.14 M354.22 1425.97 L435.4 1507.14 M366.67 1425.97 L437.22 1496.52 M379.12 1425.97 L437.22 1484.07 M391.57 1425.97 L437.22 1471.62 M404.02 1425.97 L437.22 1459.17 M416.47 1425.97 L437.22 1446.72 M428.92 1425.97 L437.22 1434.27" stroke="#0f7d7d" stroke-width="1.05" fill="none"/>
<g stroke="#0f7d7d" fill="none">
<path d="M395.62 1406.73 V1425.97 M395.62 1507.14 V1536.62 M388.93 1406.73 H402.32 M388.93 1536.62 H402.32" stroke-width="1.7"/>
<rect x="354.02" y="1425.97" width="83.2" height="81.18" fill="none" stroke-width="1.9"/>
<path d="M354.02 1471.68 H437.22" stroke-width="1.9"/>
<rect x="391.73" y="1465.28" width="7.8" height="7.8" fill="#0f7d7d" stroke="none"/>
</g>
<text x="395.73" y="1395.15" text-anchor="middle">a</text>
<g stroke="#f58518" fill="none">
<path d="M514.67 1451.94 V1461.68 M514.67 1531.12 V1572.59 M507.97 1451.94 H521.38 M507.97 1572.59 H521.38" stroke-width="1.7"/>
<rect x="473.07" y="1461.68" width="83.2" height="69.44" fill="none" stroke-width="1.9"/>
<path d="M473.07 1480.42 H556.27" stroke-width="1.9"/>
<rect x="510.77" y="1490.51" width="7.8" height="7.8" fill="#f58518" stroke="none"/>
</g>
<text x="514.77" y="1439.11" text-anchor="middle">a</text>
<path d="M592.12 1532.17 L595.58 1535.62 M592.12 1519.72 L608.03 1535.62 M592.12 1507.27 L620.48 1535.62 M592.12 1494.82 L632.93 1535.62 M592.12 1482.37 L645.38 1535.62 M592.12 1469.92 L657.83 1535.62 M592.12 1457.47 L670.28 1535.62 M592.12 1445.02 L675.33 1528.22 M592.12 1432.57 L675.33 1515.77 M592.12 1420.12 L675.33 1503.32 M592.12 1407.67 L675.33 1490.87 M592.12 1395.22 L675.33 1478.42 M592.12 1382.77 L675.33 1465.97 M592.33 1370.52 L675.33 1453.52 M604.78 1370.52 L675.33 1441.07 M617.23 1370.52 L675.33 1428.62 M629.68 1370.52 L675.33 1416.17 M642.12 1370.52 L675.33 1403.72 M654.58 1370.52 L675.33 1391.27 M667.03 1370.52 L675.33 1378.82" stroke="#0f7d7d" stroke-width="1.05" fill="none"/>
<g stroke="#0f7d7d" fill="none">
<path d="M633.73 1339.05 V1370.52 M633.73 1535.62 V1576.58 M627.02 1339.05 H640.43 M627.02 1576.58 H640.43" stroke-width="1.7"/>
<rect x="592.12" y="1370.52" width="83.2" height="165.1" fill="none" stroke-width="1.9"/>
<path d="M592.12 1420.97 H675.33" stroke-width="1.9"/>
<rect x="629.83" y="1404.08" width="7.8" height="7.8" fill="#0f7d7d" stroke="none"/>
</g>
<text x="633.83" y="1326.71" text-anchor="middle">a</text>
<g stroke="#f58518" fill="none">
<path d="M752.77 1177.44 V1357.53 M752.77 1547.86 V1589.32 M746.07 1177.44 H759.48 M746.07 1589.32 H759.48" stroke-width="1.7"/>
<rect x="711.17" y="1357.53" width="83.2" height="190.33" fill="none" stroke-width="1.9"/>
<path d="M711.17 1455.69 H794.38" stroke-width="1.9"/>
<rect x="748.88" y="1425.56" width="7.8" height="7.8" fill="#f58518" stroke="none"/>
</g>
<text x="752.88" y="1165.35" text-anchor="middle">a</text>
<rect x="98" y="1123.8" width="714.3" height="533" fill="none" stroke="#000" stroke-width="1.95" stroke-linejoin="round"/>
<text x="80.5" y="1663" text-anchor="end" font-size="22.2">0.00</text>
<text x="80.5" y="1596.38" text-anchor="end" font-size="22.2">0.05</text>
<text x="80.5" y="1529.75" text-anchor="end" font-size="22.2">0.10</text>
<text x="80.5" y="1463.12" text-anchor="end" font-size="22.2">0.15</text>
<text x="80.5" y="1396.5" text-anchor="end" font-size="22.2">0.20</text>
<text x="80.5" y="1329.88" text-anchor="end" font-size="22.2">0.25</text>
<text x="80.5" y="1263.25" text-anchor="end" font-size="22.2">0.30</text>
<text x="80.5" y="1196.62" text-anchor="end" font-size="22.2">0.35</text>
<text x="80.5" y="1130" text-anchor="end" font-size="22.2">0.40</text>
<path d="M98 1656.8 H87.7 M98 1623.49 H92.5 M98 1590.17 H87.7 M98 1556.86 H92.5 M98 1523.55 H87.7 M98 1490.24 H92.5 M98 1456.92 H87.7 M98 1423.61 H92.5 M98 1390.3 H87.7 M98 1356.99 H92.5 M98 1323.67 H87.7 M98 1290.36 H92.5 M98 1257.05 H87.7 M98 1223.74 H92.5 M98 1190.42 H87.7 M98 1157.11 H92.5 M98 1123.8 H87.7 M217.05 1656.8 V1650.2 M455.15 1656.8 V1650.2 M693.25 1656.8 V1650.2 M336.1 1656.8 V1637.4 M574.2 1656.8 V1637.4" stroke="#000" stroke-width="1.65" fill="none"/>
<text x="123.2" y="1165">(e)</text>
<text transform="translate(19.6 1390.3) rotate(-90)" text-anchor="middle" font-size="22.25" xml:space="preserve">Fungi to bacteria ratio (unitless)</text>
</g>
<g id="panel-f">
<path d="M949.12 1284.99 L959.22 1295.09 M949.12 1272.54 L971.67 1295.09 M949.12 1260.09 L984.12 1295.09 M949.12 1247.64 L996.57 1295.09 M949.33 1235.39 L1009.02 1295.09 M961.78 1235.39 L1021.47 1295.09 M974.23 1235.39 L1032.33 1293.49 M986.68 1235.39 L1032.33 1281.04 M999.12 1235.39 L1032.33 1268.59 M1011.58 1235.39 L1032.33 1256.14 M1024.03 1235.39 L1032.33 1243.69" stroke="#0f7d7d" stroke-width="1.05" fill="none"/>
<g stroke="#0f7d7d" fill="none">
<path d="M990.73 1211.66 V1235.39 M990.73 1295.09 V1302.08 M984.02 1211.66 H997.43 M984.02 1302.08 H997.43" stroke-width="1.7"/>
<rect x="949.12" y="1235.39" width="83.2" height="59.7" fill="none" stroke-width="1.9"/>
<path d="M949.12 1264.36 H1032.33" stroke-width="1.9"/>
<rect x="986.83" y="1263.46" width="7.8" height="7.8" fill="#0f7d7d" stroke="none"/>
</g>
<text x="990.83" y="1199.82" text-anchor="middle">a</text>
<g stroke="#f58518" fill="none">
<path d="M1109.78 1207.16 V1252.12 M1109.78 1373.26 V1391.5 M1103.08 1207.16 H1116.48 M1103.08 1391.5 H1116.48" stroke-width="1.7"/>
<rect x="1068.18" y="1252.12" width="83.2" height="121.14" fill="none" stroke-width="1.9"/>
<path d="M1068.18 1278.85 H1151.38" stroke-width="1.9"/>
<rect x="1105.88" y="1290.44" width="7.8" height="7.8" fill="#f58518" stroke="none"/>
</g>
<text x="1109.88" y="1195.58" text-anchor="middle">a</text>
<path d="M1187.23 1365.8 L1189.69 1368.27 M1187.23 1353.35 L1202.14 1368.27 M1187.23 1340.9 L1214.59 1368.27 M1187.23 1328.45 L1227.04 1368.27 M1187.23 1316 L1239.49 1368.27 M1187.23 1303.55 L1251.94 1368.27 M1187.23 1291.1 L1264.39 1368.27 M1187.43 1278.85 L1270.43 1361.85 M1199.88 1278.85 L1270.43 1349.4 M1212.33 1278.85 L1270.43 1336.95 M1224.78 1278.85 L1270.43 1324.5 M1237.23 1278.85 L1270.43 1312.05 M1249.68 1278.85 L1270.43 1299.6 M1262.13 1278.85 L1270.43 1287.15" stroke="#0f7d7d" stroke-width="1.05" fill="none"/>
<g stroke="#0f7d7d" fill="none">
<path d="M1228.83 1224.4 V1278.85 M1228.83 1368.27 V1419.47 M1222.12 1224.4 H1235.53 M1222.12 1419.47 H1235.53" stroke-width="1.7"/>
<rect x="1187.23" y="1278.85" width="83.2" height="89.42" fill="none" stroke-width="1.9"/>
<path d="M1187.23 1342.79 H1270.43" stroke-width="1.9"/>
<rect x="1224.92" y="1322.91" width="7.8" height="7.8" fill="#0f7d7d" stroke="none"/>
</g>
<text x="1228.92" y="1212.31" text-anchor="middle">a</text>
<g stroke="#f58518" fill="none">
<path d="M1347.88 1215.16 V1259.12 M1347.88 1403.24 V1624.79 M1341.17 1215.16 H1354.58 M1341.17 1624.79 H1354.58" stroke-width="1.7"/>
<rect x="1306.28" y="1259.12" width="83.2" height="144.12" fill="none" stroke-width="1.9"/>
<path d="M1306.28 1274.6 H1389.48" stroke-width="1.9"/>
<rect x="1343.97" y="1336.64" width="7.8" height="7.8" fill="#f58518" stroke="none"/>
</g>
<text x="1347.97" y="1204.32" text-anchor="middle">a</text>
<path d="M1425.33 1400.11 L1433.44 1408.23 M1425.33 1387.66 L1445.89 1408.23 M1425.33 1375.21 L1458.34 1408.23 M1425.33 1362.76 L1470.79 1408.23 M1425.33 1350.31 L1483.24 1408.23 M1425.33 1337.86 L1495.69 1408.23 M1425.33 1325.41 L1508.14 1408.23 M1425.33 1312.96 L1508.53 1396.16 M1425.33 1300.51 L1508.53 1383.71 M1425.33 1288.06 L1508.53 1371.26 M1425.33 1275.61 L1508.53 1358.81 M1425.53 1263.36 L1508.53 1346.36 M1437.98 1263.36 L1508.53 1333.91 M1450.43 1263.36 L1508.53 1321.46 M1462.88 1263.36 L1508.53 1309.01 M1475.33 1263.36 L1508.53 1296.56 M1487.78 1263.36 L1508.53 1284.11 M1500.23 1263.36 L1508.53 1271.66" stroke="#0f7d7d" stroke-width="1.05" fill="none"/>
<g stroke="#0f7d7d" fill="none">
<path d="M1466.93 1236.39 V1263.36 M1466.93 1408.23 V1448.95 M1460.23 1236.39 H1473.63 M1460.23 1448.95 H1473.63" stroke-width="1.7"/>
<rect x="1425.33" y="1263.36" width="83.2" height="144.87" fill="none" stroke-width="1.9"/>
<path d="M1425.33 1348.79 H1508.53" stroke-width="1.9"/>
<rect x="1463.03" y="1338.39" width="7.8" height="7.8" fill="#0f7d7d" stroke="none"/>
</g>
<text x="1467.03" y="1225.3" text-anchor="middle">a</text>
<g stroke="#f58518" fill="none">
<path d="M1585.97 1236.89 V1252.37 M1585.97 1447.95 V1583.58 M1579.27 1236.89 H1592.67 M1579.27 1583.58 H1592.67" stroke-width="1.7"/>
<rect x="1544.38" y="1252.37" width="83.2" height="195.57" fill="none" stroke-width="1.9"/>
<path d="M1544.38 1353.03 H1627.58" stroke-width="1.9"/>
<rect x="1582.07" y="1374.86" width="7.8" height="7.8" fill="#f58518" stroke="none"/>
</g>
<text x="1586.07" y="1225.55" text-anchor="middle">a</text>
<rect x="931.2" y="1123.8" width="714.3" height="533" fill="none" stroke="#000" stroke-width="1.95" stroke-linejoin="round"/>
<text x="913.7" y="1663" text-anchor="end" font-size="22.2">0.60</text>
<text x="913.7" y="1583.05" text-anchor="end" font-size="22.2">0.75</text>
<text x="913.7" y="1503.1" text-anchor="end" font-size="22.2">0.90</text>
<text x="913.7" y="1423.15" text-anchor="end" font-size="22.2">1.05</text>
<text x="913.7" y="1343.2" text-anchor="end" font-size="22.2">1.20</text>
<text x="913.7" y="1263.25" text-anchor="end" font-size="22.2">1.35</text>
<text x="913.7" y="1183.3" text-anchor="end" font-size="22.2">1.50</text>
<path d="M931.2 1656.8 H920.9 M931.2 1616.83 H925.7 M931.2 1576.85 H920.9 M931.2 1536.88 H925.7 M931.2 1496.9 H920.9 M931.2 1456.92 H925.7 M931.2 1416.95 H920.9 M931.2 1376.98 H925.7 M931.2 1337 H920.9 M931.2 1297.03 H925.7 M931.2 1257.05 H920.9 M931.2 1217.07 H925.7 M931.2 1177.1 H920.9 M931.2 1137.12 H925.7 M1050.25 1656.8 V1650.2 M1288.35 1656.8 V1650.2 M1526.45 1656.8 V1650.2 M1169.3 1656.8 V1637.4 M1407.4 1656.8 V1637.4" stroke="#000" stroke-width="1.65" fill="none"/>
<text x="956.4" y="1165">(f)</text>
<text transform="translate(853 1390.3) rotate(-90)" text-anchor="middle" font-size="22.25" xml:space="preserve">G<tspan font-size="14.5" dy="-9.5">-</tspan><tspan dy="9.5">: G</tspan><tspan font-size="14.5" dy="-9.5">+</tspan><tspan dy="9.5"> ratio (unitless)</tspan></text>
<text x="1052.7" y="1686" text-anchor="middle">Coniferous forest</text>
<text x="1289.4" y="1686" text-anchor="middle">Alpine shrubland</text>
<text x="1529.5" y="1686" text-anchor="middle">Alpine meadow</text>
</g>
<g id="panel-g">
<path d="M115.93 2017.6 L120.26 2021.93 M115.93 2005.15 L132.71 2021.93 M115.93 1992.7 L145.16 2021.93 M115.93 1980.25 L157.61 2021.93 M115.93 1967.8 L170.06 2021.93 M115.93 1955.35 L182.51 2021.93 M115.93 1942.9 L194.96 2021.93 M115.93 1930.45 L199.12 2013.65 M115.93 1918 L199.12 2001.2 M115.93 1905.55 L199.12 1988.75 M116.12 1893.3 L199.12 1976.3 M128.58 1893.3 L199.12 1963.85 M141.03 1893.3 L199.12 1951.4 M153.47 1893.3 L199.12 1938.95 M165.92 1893.3 L199.12 1926.5 M178.38 1893.3 L199.12 1914.05 M190.83 1893.3 L199.12 1901.6" stroke="#0f7d7d" stroke-width="1.05" fill="none"/>
<g stroke="#0f7d7d" fill="none">
<path d="M157.53 1839.6 V1893.3 M157.53 2021.93 V2035.17 M150.83 1839.6 H164.22 M150.83 2035.17 H164.22" stroke-width="1.7"/>
<rect x="115.93" y="1893.3" width="83.2" height="128.63" fill="none" stroke-width="1.9"/>
<path d="M115.93 1965.23 H199.12" stroke-width="1.9"/>
<rect x="153.62" y="1937.6" width="7.8" height="7.8" fill="#0f7d7d" stroke="none"/>
</g>
<text x="157.62" y="1827.01" text-anchor="middle">a</text>
<g stroke="#f58518" fill="none">
<path d="M276.57 1995.21 V2003.2 M276.57 2110.6 V2118.59 M269.88 1995.21 H283.27 M269.88 2118.59 H283.27" stroke-width="1.7"/>
<rect x="234.97" y="2003.2" width="83.2" height="107.4" fill="none" stroke-width="1.9"/>
<path d="M234.97 2093.87 H318.18" stroke-width="1.9"/>
<rect x="272.68" y="2062.99" width="7.8" height="7.8" fill="#f58518" stroke="none"/>
</g>
<text x="277.77" y="1983.12" text-anchor="middle">b</text>
<path d="M354.02 1990.82 L357.42 1994.21 M354.02 1978.37 L369.87 1994.21 M354.02 1965.92 L382.32 1994.21 M354.02 1953.47 L394.77 1994.21 M354.02 1941.02 L407.22 1994.21 M354.22 1928.77 L419.67 1994.21 M366.67 1928.77 L432.12 1994.21 M379.12 1928.77 L437.22 1986.87 M391.57 1928.77 L437.22 1974.42 M404.02 1928.77 L437.22 1961.97 M416.47 1928.77 L437.22 1949.52 M428.92 1928.77 L437.22 1937.07" stroke="#0f7d7d" stroke-width="1.05" fill="none"/>
<g stroke="#0f7d7d" fill="none">
<path d="M395.62 1865.82 V1928.77 M395.62 1994.21 V2049.41 M388.93 1865.82 H402.32 M388.93 2049.41 H402.32" stroke-width="1.7"/>
<rect x="354.02" y="1928.77" width="83.2" height="65.44" fill="none" stroke-width="1.9"/>
<path d="M354.02 1978.72 H437.22" stroke-width="1.9"/>
<rect x="391.73" y="1956.59" width="7.8" height="7.8" fill="#0f7d7d" stroke="none"/>
</g>
<text x="395.73" y="1853.98" text-anchor="middle">a</text>
<g stroke="#f58518" fill="none">
<path d="M514.67 1981.97 V2000.2 M514.67 2121.09 V2143.57 M507.97 1981.97 H521.38 M507.97 2143.57 H521.38" stroke-width="1.7"/>
<rect x="473.07" y="2000.2" width="83.2" height="120.89" fill="none" stroke-width="1.9"/>
<path d="M473.07 2048.41 H556.27" stroke-width="1.9"/>
<rect x="510.77" y="2049.25" width="7.8" height="7.8" fill="#f58518" stroke="none"/>
</g>
<text x="515.88" y="1969.88" text-anchor="middle">b</text>
<path d="M592.12 2053.2 L592.33 2053.4 M592.12 2040.75 L604.78 2053.4 M592.12 2028.3 L617.23 2053.4 M592.12 2015.85 L629.68 2053.4 M592.12 2003.4 L642.13 2053.4 M592.12 1990.95 L654.58 2053.4 M592.12 1978.5 L667.03 2053.4 M592.12 1966.05 L675.33 2049.25 M592.12 1953.6 L675.33 2036.8 M592.12 1941.15 L675.33 2024.35 M592.12 1928.7 L675.33 2011.9 M592.12 1916.25 L675.33 1999.45 M592.12 1903.8 L675.33 1987 M592.33 1891.55 L675.33 1974.55 M604.78 1891.55 L675.33 1962.1 M617.23 1891.55 L675.33 1949.65 M629.67 1891.55 L675.33 1937.2 M642.12 1891.55 L675.33 1924.75 M654.58 1891.55 L675.33 1912.3 M667.03 1891.55 L675.33 1899.85" stroke="#0f7d7d" stroke-width="1.05" fill="none"/>
<g stroke="#0f7d7d" fill="none">
<path d="M633.73 1804.63 V1891.55 M633.73 2053.4 V2070.89 M627.02 1804.63 H640.43 M627.02 2070.89 H640.43" stroke-width="1.7"/>
<rect x="592.12" y="1891.55" width="83.2" height="161.85" fill="none" stroke-width="1.9"/>
<path d="M592.12 1921.77 H675.33" stroke-width="1.9"/>
<rect x="629.83" y="1945.1" width="7.8" height="7.8" fill="#0f7d7d" stroke="none"/>
</g>
<text x="633.83" y="1792.79" text-anchor="middle">a</text>
<g stroke="#f58518" fill="none">
<path d="M752.77 2071.89 V2104.86 M752.77 2133.83 V2196.02 M746.07 2071.89 H759.48 M746.07 2196.02 H759.48" stroke-width="1.7"/>
<rect x="711.17" y="2104.86" width="83.2" height="28.97" fill="none" stroke-width="1.9"/>
<path d="M711.17 2121.34 H794.38" stroke-width="1.9"/>
<rect x="748.88" y="2119.44" width="7.8" height="7.8" fill="#f58518" stroke="none"/>
</g>
<text x="753.98" y="2059.3" text-anchor="middle">b</text>
<rect x="98" y="1679.3" width="714.3" height="533" fill="none" stroke="#000" stroke-width="1.95" stroke-linejoin="round"/>
<text x="80.5" y="2218.5" text-anchor="end" font-size="22.2">1</text>
<text x="80.5" y="2142.36" text-anchor="end" font-size="22.2">2</text>
<text x="80.5" y="2066.21" text-anchor="end" font-size="22.2">3</text>
<text x="80.5" y="1990.07" text-anchor="end" font-size="22.2">4</text>
<text x="80.5" y="1913.93" text-anchor="end" font-size="22.2">5</text>
<text x="80.5" y="1837.79" text-anchor="end" font-size="22.2">6</text>
<text x="80.5" y="1761.64" text-anchor="end" font-size="22.2">7</text>
<text x="80.5" y="1685.5" text-anchor="end" font-size="22.2">8</text>
<path d="M98 2212.3 H87.7 M98 2174.23 H92.5 M98 2136.16 H87.7 M98 2098.09 H92.5 M98 2060.01 H87.7 M98 2021.94 H92.5 M98 1983.87 H87.7 M98 1945.8 H92.5 M98 1907.73 H87.7 M98 1869.66 H92.5 M98 1831.59 H87.7 M98 1793.51 H92.5 M98 1755.44 H87.7 M98 1717.37 H92.5 M98 1679.3 H87.7 M217.05 2212.3 V2205.7 M455.15 2212.3 V2205.7 M693.25 2212.3 V2205.7 M336.1 2212.3 V2192.9 M574.2 2212.3 V2192.9" stroke="#000" stroke-width="1.65" fill="none"/>
<text x="123.2" y="1720.5">(g)</text>
<text transform="translate(51 1945.8) rotate(-90)" text-anchor="middle" font-size="22.25" xml:space="preserve">PLFA microbial biomass (nmol g<tspan font-size="14.5" dy="-9.5">-1</tspan><tspan dy="9.5"> DM)</tspan></text>
<text x="219.3" y="2241.5" text-anchor="middle">Coniferous forest</text>
<text x="449.5" y="2241.5" text-anchor="middle">Alpine shrubland</text>
<text x="689.8" y="2241.5" text-anchor="middle">Alpine meadow</text>
</g>
<g id="legend">
<path d="M1498.3 43.55 L1508.15 53.4 M1498.5 31.3 L1520.6 53.4 M1510.95 31.3 L1533.05 53.4 M1523.4 31.3 L1545.5 53.4 M1535.85 31.3 L1546.1 41.55" stroke="#0f7d7d" stroke-width="1.05" fill="none"/>
<rect x="1498.3" y="31.3" width="47.8" height="22.1" fill="none" stroke="#0f7d7d" stroke-width="2"/>
<rect x="1498.3" y="58.3" width="47.8" height="22.5" fill="none" stroke="#f58518" stroke-width="2"/>
<text x="1553.2" y="49.3">LF layer</text>
<text x="1553.4" y="77.1">H layer</text>
</g>
</svg>
</body>
</html>
